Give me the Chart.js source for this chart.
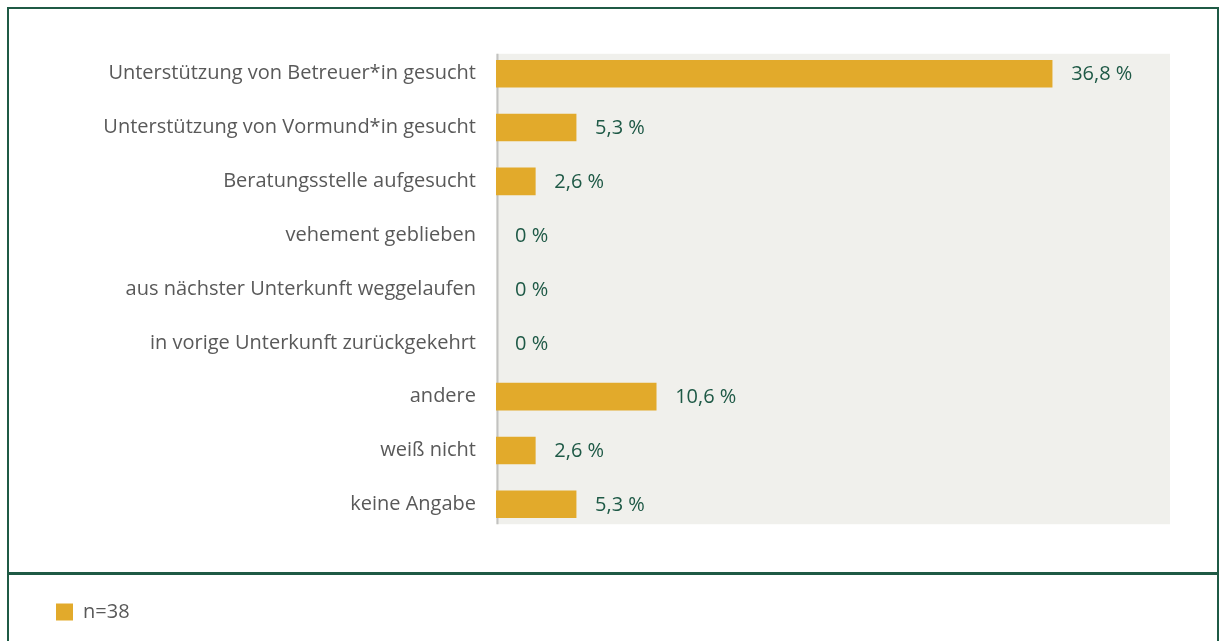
<!DOCTYPE html>
<html>
<head>
<meta charset="utf-8">
<script src="https://cdn.jsdelivr.net/npm/chart.js@4/dist/chart.umd.min.js"></script>
<style>
  html, body { margin: 0; padding: 0; background: #fff; overflow: hidden; }
  #wrap { position: relative; width: 1219px; height: 641px; }
  #chart { position: absolute; left: 0; top: 0; }
  .frame { position: absolute; left: 7px; top: 7px; width: 1208px; height: 660px; border: 2px solid #1f5a45; pointer-events: none; }
  .divider { position: absolute; left: 7px; top: 572px; width: 1212px; height: 3px; background: #1f5a45; pointer-events: none; }
</style>
</head>
<body>
<div id="wrap">
  <canvas id="chart" width="1219" height="641"></canvas>
  <div class="frame"></div>
  <div class="divider"></div>
</div>
<script>
const categories = [
  'Unterstützung von Betreuer*in gesucht',
  'Unterstützung von Vormund*in gesucht',
  'Beratungsstelle aufgesucht',
  'vehement geblieben',
  'aus nächster Unterkunft weggelaufen',
  'in vorige Unterkunft zurückgekehrt',
  'andere',
  'weiß nicht',
  'keine Angabe'
];
const shares = [36.8, 5.3, 2.6, 0, 0, 0, 10.6, 2.6, 5.3];
const seriesLabel = 'n=38';

const barColor = '#e2aa2b';
const labelGray = '#595959';
const valueGreen = '#1e5946';

Chart.defaults.font.family = '"Open Sans", sans-serif';
Chart.defaults.font.size = 20;
Chart.defaults.color = labelGray;

function fmt(v) {
  return String(v).replace('.', ',') + ' %';
}

// grey plot panel + axis line behind the bars
const plotPanel = {
  id: 'plotPanel',
  beforeDatasetsDraw(chart) {
    const { ctx, chartArea } = chart;
    const inset = 7;
    ctx.save();
    ctx.fillStyle = '#f0f0ec';
    ctx.fillRect(chartArea.left, chartArea.top + inset, chartArea.right - chartArea.left, chartArea.bottom - chartArea.top - 2 * inset);
    ctx.strokeStyle = '#c2c2c0';
    ctx.lineWidth = 2;
    ctx.beginPath();
    ctx.moveTo(chartArea.left + 1.5, chartArea.top + inset);
    ctx.lineTo(chartArea.left + 1.5, chartArea.bottom - inset);
    ctx.stroke();
    ctx.restore();
  }
};

// value labels right of each bar
const valueLabels = {
  id: 'valueLabels',
  afterDatasetsDraw(chart) {
    const { ctx } = chart;
    const meta = chart.getDatasetMeta(0);
    ctx.save();
    ctx.font = '20px "Open Sans", sans-serif';
    ctx.fillStyle = valueGreen;
    ctx.textAlign = 'left';
    ctx.textBaseline = 'middle';
    meta.data.forEach((bar, i) => {
      ctx.fillText(fmt(shares[i]), bar.x + 19, bar.y + 1);
    });
    ctx.restore();
  }
};

new Chart(document.getElementById('chart'), {
  type: 'bar',
  data: {
    labels: categories,
    datasets: [{
      label: seriesLabel,
      data: shares,
      backgroundColor: (c) => (c.raw === 0 ? 'rgba(0,0,0,0)' : barColor),
      borderWidth: 0,
      barThickness: 27
    }]
  },
  options: {
    indexAxis: 'y',
    responsive: false,
    animation: false,
    layout: { padding: { left: 46, top: 46.8, right: 49, bottom: 9 } },
    scales: {
      x: {
        min: 0,
        max: 44.6,
        display: true,
        ticks: { display: false },
        grid: { display: false },
        border: { display: false },
        afterFit(scale) { scale.height = 60.8; }
      },
      y: {
        grid: { display: false },
        border: { display: false },
        ticks: { padding: 12, color: labelGray, font: { size: 20 } },
        afterFit(scale) { scale.width = 450; }
      }
    },
    plugins: {
      legend: {
        position: 'bottom',
        align: 'start',
        labels: { boxWidth: 17, boxHeight: 17, padding: 10, color: labelGray, font: { size: 20 } }
      },
      tooltip: { enabled: false }
    }
  },
  plugins: [plotPanel, valueLabels]
});
</script>
</body>
</html>
